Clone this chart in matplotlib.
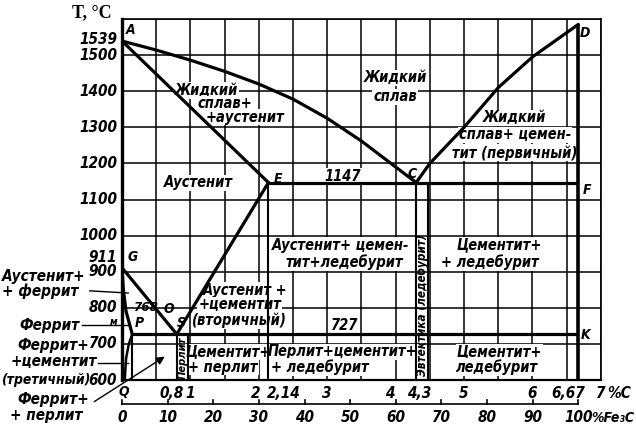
import numpy as np
import matplotlib
matplotlib.use('Agg')
import matplotlib.pyplot as plt

# ШРИФТЫ
plt.rcParams['font.family'] = ['DejaVu Sans']
plt.rcParams['font.style'] = 'italic'
plt.rcParams['font.weight'] = 'bold'
plt.rcParams['font.stretch'] = 'condensed'

# ДАННЫЕ (%C, T °C)
liquidus_ac_c = [0, 0.5, 1.0, 1.5, 2.0, 2.5, 3.0, 3.5, 4.0, 4.3]
liquidus_ac_t = [1539, 1514, 1486, 1455, 1420, 1378, 1325, 1262, 1190, 1147]
liquidus_cd_c = [4.3, 4.5, 5.0, 5.5, 6.0, 6.67]
liquidus_cd_t = [1147, 1200, 1300, 1410, 1495, 1585]
solidus_ae_c = [0, 2.14]
solidus_ae_t = [1539, 1147]
line_es_c = [2.14, 0.8]
line_es_t = [1147, 727]
line_gs_c = [0, 0.8]
line_gs_t = [911, 727]
line_gp_c = [0, 0.02, 0.06, 0.15]
line_gp_t = [911, 850, 790, 727]
line_pq_c = [0.15, 0.1, 0.06, 0.04]
line_pq_t = [727, 700, 660, 600]
ecf_c = [2.14, 6.67]
ecf_t = 1147
psk_c = [0.15, 6.67]
psk_t = 727

# вертикали
fe3c_c = 6.67
fe3c_top = 1585
e_c = 2.14
eutectic_c = [4.3, 4.48]
pearlite_c = [0.8, 0.97]
p_c = 0.15

# подписи осей
t_ticks = [1500, 1400, 1300, 1200, 1100, 1000, 900, 800, 700, 600]
c_labels = ['0,8', '1', '2', '2,14', '3', '4', '4,3', '5', '6', '6,67', '7']
c_values = [0.8, 1, 2, 2.14, 3, 4, 4.3, 5, 6, 6.67, 7]
fe3c_values = [0, 10, 20, 30, 40, 50, 60, 70, 80, 90, 100]

fig = plt.figure(figsize=(6.36, 4.28), dpi=100)
ax = fig.add_axes([0.1918, 0.1121, 0.753, 0.8435])
ax.set_xlim(0, 7)
ax.set_ylim(600, 1600)
ax.set_xticks(np.arange(0, 7.01, 0.5))
ax.set_yticks(np.arange(600, 1601, 100))
ax.tick_params(length=0, labelbottom=False, labelleft=False)
ax.grid(color='black', lw=1.1)
ax.set_axisbelow(True)
for s in ax.spines.values():
    s.set_linewidth(1.2)
ax.spines['left'].set_linewidth(2.4)
ax.spines['bottom'].set_linewidth(1.6)

THICK = dict(color='black', lw=2.3, zorder=4, solid_capstyle='round')
MED = dict(color='black', lw=1.5, zorder=4)

ax.plot(liquidus_ac_c, liquidus_ac_t, **THICK)
ax.plot(liquidus_cd_c, liquidus_cd_t, **THICK)
ax.plot(solidus_ae_c, solidus_ae_t, **THICK)
ax.plot(line_es_c, line_es_t, **THICK)
ax.plot(line_gs_c, line_gs_t, **THICK)
ax.plot(line_gp_c, line_gp_t, **THICK)
ax.plot(line_pq_c, line_pq_t, color='black', lw=1.8, zorder=4)
ax.hlines(ecf_t, *ecf_c, color='black', lw=2.3, zorder=4)
ax.hlines(psk_t, *psk_c, color='black', lw=2.3, zorder=4)
ax.vlines(fe3c_c, 600, fe3c_top, color='black', lw=2.6, zorder=4)
ax.vlines(e_c, 600, ecf_t, **MED)
ax.vlines(eutectic_c, 600, ecf_t, **MED)
ax.vlines(pearlite_c, 600, psk_t, **MED)
ax.vlines(p_c, 600, psk_t, **MED)

BOX = dict(fc='white', ec='none', pad=0.5)


def label(x, y, s, size=10.5, ha='center', rot=0, box=True):
    ax.text(x, y, s, fontsize=size, ha=ha, va='center', rotation=rot,
            bbox=BOX if box else None, zorder=3, clip_on=False)


# области
label(1.24, 1402, 'Жидкий')
label(1.5, 1365, 'сплав+')
label(1.8, 1328, '+аустенит')
label(3.99, 1437, 'Жидкий')
label(3.99, 1384, 'сплав')
label(5.74, 1326, 'Жидкий')
label(5.74, 1279, 'сплав+ цемен-')
label(5.74, 1229, 'тит (первичный)')
label(1.11, 1146, 'Аустенит')
label(3.23, 1164, '1147')
label(3.2, 974, 'Аустенит+ цемен-')
label(3.25, 927, 'тит+ледебурит')
label(5.52, 974, 'Цементит+')
label(5.38, 927, '+ ледебурит')
label(1.8, 849, 'Аустенит +')
label(1.72, 808, '+цементит')
label(1.72, 766, '(вторичный)')
label(3.26, 752, '727')
label(1.55, 678, 'Цементит+')
label(1.48, 636, '+ перлит')
label(3.23, 678, 'Перлит+цементит+')
label(2.89, 636, '+ ледебурит')
label(5.52, 678, 'Цементит+')
label(5.48, 636, 'ледебурит')
label(0.885, 662, 'Перлит', size=8, rot=90, box=False)
label(4.39, 808, 'Эвтектика (ледебурит)', size=8.5, rot=90, box=False)

# точки
for x, y, s in [(0.12, 1570, 'A'), (6.77, 1560, 'D'), (2.28, 1156, 'E'),
                (4.24, 1172, 'C'), (6.8, 1126, 'F'), (6.77, 725, 'K'),
                (0.16, 940, 'G'), (0.25, 758, 'P'), (0.86, 758, 'S'),
                (0.69, 796, 'O'), (0.03, 566, 'Q')]:
    label(x, y, s, size=10, box=False)
label(0.35, 802, '768', size=9.5, box=False)
label(-0.13, 762, 'м', size=7.5, box=False)

# ось температур
TL = 11
for t in t_ticks:
    ax.text(-0.07, t, str(t), fontsize=TL, ha='right', va='center')
ax.text(-0.07, 1542, '1539', fontsize=TL, ha='right', va='center')
ax.text(-0.07, 938, '911', fontsize=TL, ha='right', va='center')
ax.text(-0.44, 1618, 'T, °C', fontsize=13, ha='center', va='center',
        family='Liberation Serif', style='normal', weight='bold',
        stretch='normal')

# подписи слева
LL = 11
label(-1.14, 887, 'Аустенит+', size=LL, box=False)
label(-1.2, 847, '+ феррит', size=LL, box=False)
label(-1.06, 752, 'Феррит', size=LL, box=False)
label(-1.0, 697, 'Феррит+', size=LL, box=False)
label(-1.0, 650, '+цементит', size=LL, box=False)
label(-1.12, 600, '(третичный)', size=10, box=False)
label(-1.0, 545, 'Феррит+', size=LL, box=False)
label(-1.1, 503, '+ перлит', size=LL, box=False)
LEAD = dict(color='black', lw=1.0, clip_on=False)
ax.plot([-0.47, 0.09], [847, 841], **LEAD)
ax.plot([-0.58, 0.12], [752, 752], **LEAD)
ax.plot([-0.35, 0.09], [647, 647], **LEAD)
ax.annotate('', xy=(0.66, 669), xytext=(-0.44, 536),
            arrowprops=dict(arrowstyle='-|>', color='black', lw=1.0,
                            mutation_scale=12), annotation_clip=False)

# ось %C
for v, s in zip(c_values, c_labels):
    dx = {0.8: -0.07, 2: -0.05, 2.14: 0.22, 4: -0.08, 4.3: 0.05,
          6.67: -0.15}.get(v, 0)
    ax.text(v + dx, 564, s, fontsize=TL, ha='center', va='center')
ax.text(7.1, 564, '%C', fontsize=TL, ha='left', va='center')

# ось %Fe3C
y_fe = 534
ax.plot([0, fe3c_c], [y_fe, y_fe], color='black', lw=1.2, clip_on=False)
for v in fe3c_values:
    xc = v / 100 * fe3c_c
    ax.plot([xc, xc], [y_fe, y_fe + 12], color='black', lw=1.2, clip_on=False)
    ax.text(xc, 495, str(v), fontsize=TL, ha='center', va='center')
ax.text(6.86, 495, '%Fe₃C', fontsize=10, ha='left', va='center')

fig.savefig('out.png', dpi=100)
